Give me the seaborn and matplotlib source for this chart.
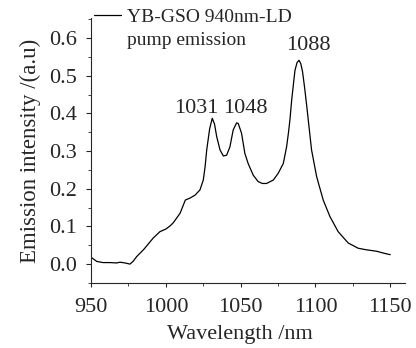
import matplotlib
matplotlib.use('Agg')
import matplotlib.pyplot as plt
from matplotlib.lines import Line2D
from matplotlib.ticker import MultipleLocator
import seaborn as sns
import pandas as pd

# emission spectrum
wavelength = [950, 953.8, 958, 963, 967, 969.4, 972.7, 976, 978, 980.5, 985, 991.5, 996, 1000,
              1003, 1005, 1009.5, 1013, 1016, 1019.5, 1022.8, 1025, 1026.2, 1027.3, 1029.3,
              1031, 1032.5, 1034, 1036.2, 1038.4, 1040.6, 1042.8, 1045, 1047.3, 1048.4,
              1050.6, 1052.8, 1055, 1058.4, 1061.7, 1064.5, 1067.3, 1071.8, 1075.1, 1078.5,
              1080.7, 1082, 1083, 1084.1, 1085.2, 1086.3, 1087.7, 1089, 1090.2, 1091.4, 1092.7,
              1094, 1097.4, 1100.8, 1105.2, 1109.7, 1115.2, 1121.9, 1128.6, 1134, 1141,
              1145.6, 1150]
intensity = [0.018, 0.007, 0.004, 0.004, 0.003, 0.005, 0.003, 0.0, 0.007, 0.02, 0.038, 0.069,
             0.086, 0.093, 0.102, 0.11, 0.135, 0.17, 0.175, 0.183, 0.197, 0.223, 0.258, 0.303,
             0.36, 0.387, 0.372, 0.338, 0.303, 0.287, 0.289, 0.311, 0.356, 0.375, 0.373,
             0.347, 0.294, 0.267, 0.236, 0.219, 0.214, 0.214, 0.223, 0.241, 0.267, 0.311,
             0.35, 0.385, 0.435, 0.475, 0.514, 0.535, 0.541, 0.532, 0.51, 0.47, 0.426, 0.303,
             0.232, 0.17, 0.126, 0.086, 0.056, 0.042, 0.038, 0.034, 0.029, 0.025]

peak_labels = ['1031', '1048', '1088']
peak_label_x = [1020.5, 1053.3, 1095.4]
peak_label_y = [0.413, 0.413, 0.58]

df = pd.DataFrame({'wavelength': wavelength, 'intensity': intensity})

sns.set_style('ticks')
plt.rcParams['font.family'] = ['Liberation Serif', 'DejaVu Serif']

fig = plt.figure(figsize=(4.16, 3.48), dpi=100)
ax = fig.add_axes([0.219, 0.187, 0.755, 0.761])

sns.lineplot(data=df, x='wavelength', y='intensity', color='black', linewidth=0.9, ax=ax)

for lab, px, py in zip(peak_labels, peak_label_x, peak_label_y):
    ax.text(px, py, lab, ha='center', va='center', fontsize=16)

ax.set_xlim(950, 1160)
ax.set_ylim(-0.05, 0.653)
ax.xaxis.set_minor_locator(MultipleLocator(25))
ax.yaxis.set_minor_locator(MultipleLocator(0.05))
ax.set_xticks([950, 1000, 1050, 1100, 1150])
ax.set_yticks([0.0, 0.1, 0.2, 0.3, 0.4, 0.5, 0.6])
ax.set_yticklabels(['0.0', '0.1', '0.2', '0.3', '0.4', '0.5', '0.6'])
ax.tick_params(axis='x', which='both', direction='out', labelsize=16, pad=8)
ax.tick_params(axis='x', which='major', length=3)
ax.tick_params(axis='x', which='minor', length=2)
ax.tick_params(axis='y', which='both', direction='out', labelsize=16, pad=6.5)
ax.tick_params(axis='y', which='major', length=3.4)
ax.tick_params(axis='y', which='minor', length=2.2)
sns.despine(ax=ax)
for s in ['left', 'bottom']:
    ax.spines[s].set_linewidth(0.8)

ax.set_xlabel('Wavelength /nm', fontsize=16, labelpad=7)
ax.xaxis.set_label_coords(0.475, -0.16)
ax.set_ylabel('Emission intensity /(a.u)', fontsize=16.5, labelpad=6)

handles = [Line2D([], [], color='black', linewidth=0.9), Line2D([], [], color='none')]
ax.legend(handles, ['YB-GSO 940nm-LD', 'pump emission'], loc='upper left',
          bbox_to_anchor=(-0.015, 1.066), frameon=False, fontsize=14, handlelength=1.4,
          handletextpad=0.3, labelspacing=0.3, borderaxespad=0)

fig.savefig('out.png', dpi=100)
